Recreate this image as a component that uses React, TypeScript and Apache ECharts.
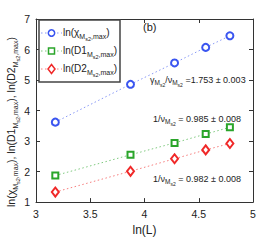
import React, { useEffect, useRef } from "react";
import * as echarts from "echarts";

const lnL = [3.178, 3.871, 4.277, 4.564, 4.787];
const chiVals = [3.62, 4.86, 5.56, 6.07, 6.45];
const d1Vals = [1.87, 2.55, 2.94, 3.23, 3.45];
const d2Vals = [1.33, 2.01, 2.42, 2.71, 2.92];
const seriesNames = ["chi", "D1", "D2"];
const xTicks = [3, 3.5, 4, 4.5, 5];
const yTicks = [1, 2, 3, 4, 5, 6, 7];

const FONT = "Liberation Sans, Arial, sans-serif";

const legendLabels = [
  "{a|ln(χ}{b|M}{c|s2}{b|,max}{a|)}",
  "{a|ln(D1}{b|M}{c|s2}{b|,max}{a|)}",
  "{a|ln(D2}{b|M}{c|s2}{b|,max}{a|)}",
];

const richSmall = {
  a: { fontSize: 10, lineHeight: 19, fontFamily: FONT, fill: "#222" },
  b: { fontSize: 7, lineHeight: 8, verticalAlign: "bottom", padding: [0, 0, 2, 0], fontFamily: FONT, fill: "#222" },
  c: { fontSize: 5.5, lineHeight: 6, verticalAlign: "bottom", fontFamily: FONT, fill: "#222" },
};

const richAnno = {
  a: { fontSize: 9, lineHeight: 16, fontFamily: FONT, fill: "#222" },
  b: { fontSize: 6.5, lineHeight: 7, verticalAlign: "bottom", padding: [0, 0, 2, 0], fontFamily: FONT, fill: "#222" },
  c: { fontSize: 5, lineHeight: 5, verticalAlign: "bottom", fontFamily: FONT, fill: "#222" },
};

const richYName = {
  a: { fontSize: 10.5, lineHeight: 20, fontFamily: FONT, fill: "#222" },
  b: { fontSize: 7, lineHeight: 8, verticalAlign: "bottom", padding: [0, 0, 2, 0], fontFamily: FONT, fill: "#222" },
  c: { fontSize: 5.5, lineHeight: 6, verticalAlign: "bottom", fontFamily: FONT, fill: "#222" },
};

export default function App() {
  const ref = useRef<HTMLDivElement>(null);
  useEffect(() => {
    if (!ref.current) return;
    const chart = echarts.init(ref.current, undefined, { renderer: "svg" });
    const colors = ["#3a55f0", "#2aa52a", "#f02828"];
    const symbols = ["emptyCircle", "emptyRect", "emptyDiamond"];
    const sizes = [[7, 7], [6, 6], [7, 9]];
    const vals = [chiVals, d1Vals, d2Vals];
    const axisLine = { show: true, lineStyle: { color: "#333", width: 1 } };
    const axisTick = { show: true, inside: true, length: 4, lineStyle: { color: "#333" } };

    const rowY = [32, 50, 68];
    const legendGraphics: any[] = [
      { type: "rect", shape: { x: 39, y: 20, width: 81, height: 62 }, style: { fill: "#fff", stroke: "#444", lineWidth: 1.5 }, z: 100 },
    ];
    rowY.forEach((y, i) => {
      legendGraphics.push({
        type: "line", shape: { x1: 41, y1: y + 1, x2: 62, y2: y + 1 }, z: 101,
        style: { stroke: colors[i], lineWidth: 1, lineDash: [1.5, 2.5], opacity: 0.6 },
      });
      const ms = { fill: "#fff", stroke: colors[i], lineWidth: 1.5 };
      if (i === 0) legendGraphics.push({ type: "circle", shape: { cx: 51.5, cy: y + 1, r: 3.2 }, style: ms, z: 102 });
      if (i === 1) legendGraphics.push({ type: "rect", shape: { x: 48.5, y: y - 2, width: 6, height: 6 }, style: ms, z: 102 });
      if (i === 2) legendGraphics.push({ type: "polygon", shape: { points: [[51.5, y - 3.5], [55, y + 1], [51.5, y + 5.5], [48, y + 1]] }, style: ms, z: 102 });
      legendGraphics.push({
        type: "text", x: 63, y, z: 102,
        style: { text: legendLabels[i], rich: richSmall, align: "left", verticalAlign: "middle" },
      });
    });

    chart.setOption({
      animation: false,
      textStyle: { fontFamily: FONT },
      grid: { left: 36, right: 27, top: 19, bottom: 28, show: false },
      xAxis: [
        {
          type: "value", min: 3, max: 5, interval: 0.5,
          axisLine, axisTick, splitLine: { show: false },
          axisLabel: { fontSize: 10.5, color: "#222", margin: 6, fontFamily: FONT,
            formatter: (v: number) => (xTicks.includes(v) ? String(v) : "") },
          name: "ln(L)", nameLocation: "middle", nameGap: 18,
          nameTextStyle: { fontSize: 12, color: "#222", fontFamily: FONT },
        },
        {
          type: "value", min: 3, max: 5, interval: 0.5, position: "top",
          axisLine, axisTick, axisLabel: { show: false }, splitLine: { show: false },
        },
      ],
      yAxis: [
        {
          type: "value", min: 1, max: 7, interval: 1,
          axisLine, axisTick, splitLine: { show: false },
          axisLabel: { fontSize: 10.5, color: "#222", margin: 6, fontFamily: FONT,
            formatter: (v: number) => (yTicks.includes(v) ? String(v) : "") },
        },
        {
          type: "value", min: 1, max: 7, interval: 1, position: "right",
          axisLine, axisTick, axisLabel: { show: false }, splitLine: { show: false },
        },
      ],
      series: seriesNames.map((n, i) => ({
        name: n,
        type: "line",
        data: lnL.map((x, j) => [x, vals[i][j]]),
        symbol: symbols[i],
        symbolSize: sizes[i],
        itemStyle: { color: colors[i], borderWidth: 1.5 },
        lineStyle: { color: colors[i], width: 1, type: [1.5, 2.5], opacity: 0.6 },
      })),
      graphic: [
        ...legendGraphics,
        {
          type: "text", x: 11, y: 122, rotation: Math.PI / 2,
          style: {
            text: "{a|ln(χ}{b|M}{c|s2}{b|,max}{a|), ln(D1}{b|M}{c|s2}{b|,max}{a|), ln(D2}{b|M}{c|s2}{b|,max}{a|)}",
            rich: richYName, align: "center", verticalAlign: "middle",
          },
        },
        { type: "text", left: 143, top: 21, style: { text: "(b)", fontSize: 11, fill: "#222", fontFamily: FONT } },
        {
          type: "text", left: 150, top: 75,
          style: { text: "{a|γ}{b|M}{c|s2}{a|/ν}{b|M}{c|s2}{a| =1.753 ± 0.003}", rich: richAnno },
        },
        {
          type: "text", left: 153, top: 114,
          style: { text: "{a|1/ν}{b|M}{c|s2}{a| = 0.985 ± 0.008}", rich: richAnno },
        },
        {
          type: "text", left: 153, top: 174,
          style: { text: "{a|1/ν}{b|M}{c|s2}{a| = 0.982 ± 0.008}", rich: richAnno },
        },
      ],
    });
    return () => chart.dispose();
  }, []);
  return <div ref={ref} style={{ width: 280, height: 241, position: "absolute", left: 0, top: 0 }} />;
}
